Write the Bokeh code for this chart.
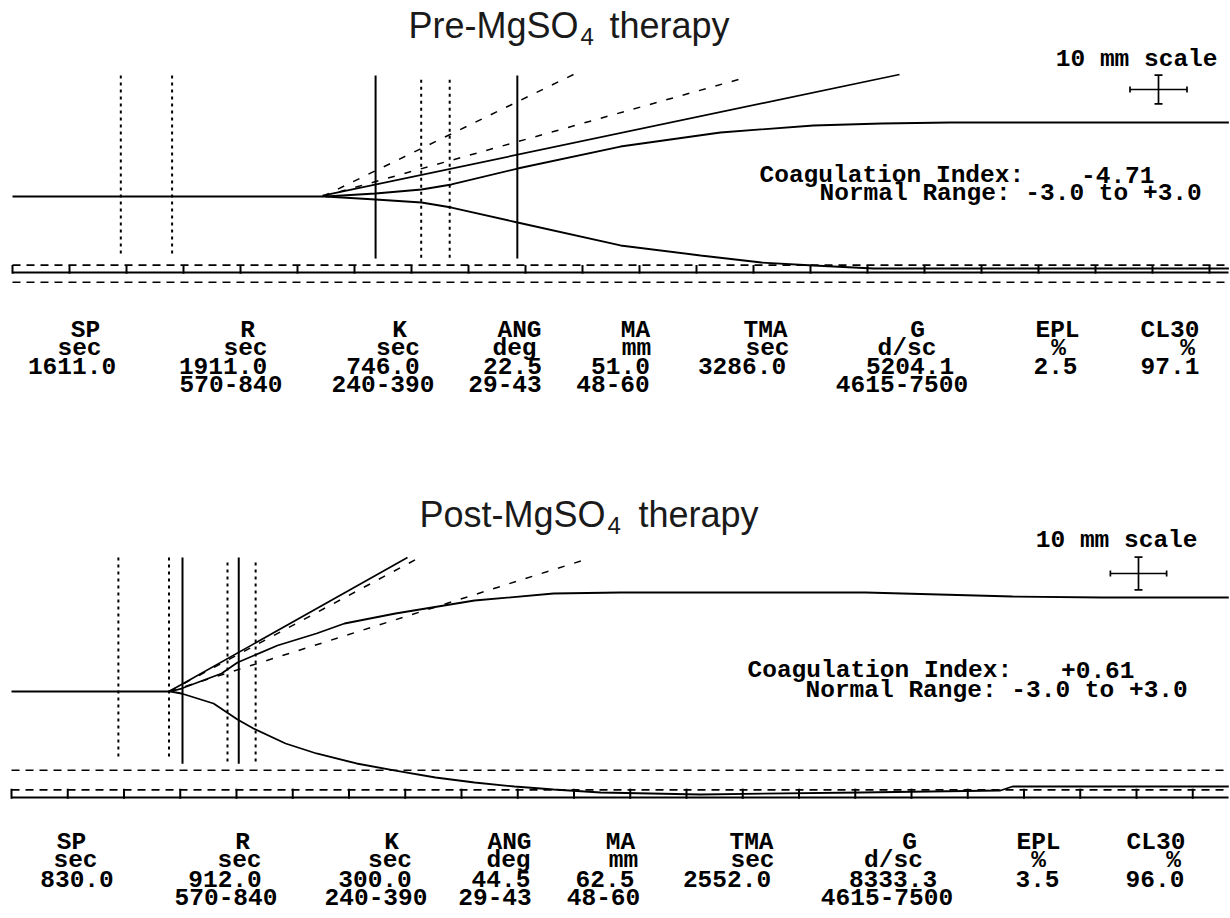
from bokeh.plotting import figure
from bokeh.models import Range1d, Label, ColumnDataSource
from bokeh.layouts import column
from bokeh.embed import file_html
from bokeh.resources import INLINE
from bokeh.core.properties import value

# ---------------- data ----------------
params = ["SP", "R", "K", "ANG", "MA", "TMA", "G", "EPL", "CL30"]
units = ["sec", "sec", "sec", "deg", "mm", "sec", "d/sc", "%", "%"]
normal_ranges = ["", "570-840", "240-390", "29-43", "48-60", "", "4615-7500", "", ""]
pre_values = ["1611.0", "1911.0", "746.0", "22.5", "51.0", "3286.0", "5204.1", "2.5", "97.1"]
post_values = ["830.0", "912.0", "300.0", "44.5", "62.5", "2552.0", "8333.3", "3.5", "96.0"]
pre_ci = "-4.71"
post_ci = "+0.61"
ci_normal = "Normal Range: -3.0 to +3.0"

R_normal_s = [570, 840]
K_normal_s = [240, 390]
MA_normal_mm = [48, 60]
pre_R_s, pre_K_s = 1911.0, 746.0
post_R_s, post_K_s = 912.0, 300.0

# TEG traces: time (min) and amplitude (mm) above / below the centre line
pre_up_t = [0, 27.46, 31.84, 35.88, 38.51, 44.30, 53.33, 62.1, 70.26, 76.23, 82.28, 106.7]
pre_up_a = [0, 0, 1.05, 2.45, 4.20, 9.79, 17.48, 22.38, 24.83, 25.52, 25.87, 25.87]
pre_lo_t = [27.46, 31.84, 35.88, 38.51, 44.30, 53.33, 60.35, 65.70, 70.26, 75.53, 106.7]
pre_lo_a = [0, -1.05, -2.10, -3.85, -9.09, -17.13, -20.63, -23.08, -24.13, -25.17, -25.17]

post_up_t = [0, 14.13, 15.11, 18.67, 20.09, 23.64, 27.11, 29.6, 34.13, 41.16, 48.18, 54.13, 75.91, 88.98, 96.98, 108.2]
post_up_a = [0, 0, 0.91, 5.49, 8.84, 14.02, 17.68, 20.73, 23.78, 27.74, 29.88, 30.18, 30.18, 28.96, 28.66, 28.66]
post_lo_t = [14.13, 15.11, 17.96, 20.09, 21.51, 24.36, 27.11, 30.67, 34.13, 37.69, 41.16, 44.71, 48.18, 52.36, 61.24, 75.47, 87.91, 88.98, 108.2]
post_lo_a = [0, -0.61, -3.66, -8.54, -11.28, -15.85, -18.9, -21.95, -24.09, -26.22, -27.74, -28.96, -29.88, -30.79, -31.40, -30.79, -30.18, -28.96, -28.96]

# angle lines: patient (solid), upper / lower normal angle (dashed)
pre_angle_t = [[27.2, 77.81], [27.2, 49.21], [27.2, 64.30]]
pre_angle_a = [[0.3, 42.66], [0.0, 42.66], [0.0, 41.6]]
post_angle_t = [[14.0, 35.2], [14.0, 36.27], [14.0, 51.02]]
post_angle_a = [[0.0, 40.85], [0.0, 40.85], [0.0, 40.24]]

tick_minutes = list(range(0, 110, 5))

MONO = "Liberation Mono"
SANS = "Liberation Sans"
W = 1230
MONO_PX = 24.5
TITLE_PX = 36
SUB_PX = 24
MID = 0.33  # distance of the text middle above the baseline, in em


def build_panel(cal, top_ref, height, title_main, title_rest, vals, ci_val,
                up_t, up_a, lo_t, lo_a, ang_t, ang_a, R_s, K_s, lay):
    x0, sx, y0, sy = cal
    X = lambda px: (px - x0) / sx
    Y = lambda py: (y0 - py) / sy
    TB = lambda base, size: Y(base - MID * size)  # baseline -> middle anchor
    p = figure(width=W, height=height,
               x_range=Range1d(X(0), X(W)),
               y_range=Range1d(Y(top_ref + height), Y(top_ref)),
               output_backend="svg", toolbar_location=None,
               x_axis_type=None, y_axis_type=None, min_border=0,
               outline_line_color=None, background_fill_color="white",
               border_fill_color="white")
    p.grid.visible = False
    t_end = X(1228)

    # vertical reference lines
    R_m, K_m = R_s / 60.0, K_s / 60.0
    vt, vb = lay["vtop"], lay["vbot"]
    p.segment(x0=[R_normal_s[0] / 60, R_normal_s[1] / 60], x1=[R_normal_s[0] / 60, R_normal_s[1] / 60],
              y0=[vt, vt], y1=[vb[0], vb[0]], line_color="black", line_width=2, line_dash="3 4")
    p.segment(x0=[R_m + K_normal_s[0] / 60, R_m + K_normal_s[1] / 60],
              x1=[R_m + K_normal_s[0] / 60, R_m + K_normal_s[1] / 60],
              y0=[vt - 1.5, vt - 1.5], y1=[vb[1], vb[1]], line_color="black", line_width=2, line_dash="3 4")
    p.segment(x0=[R_m, R_m + K_m], x1=[R_m, R_m + K_m], y0=[vt, vt], y1=[vb[1], vb[1]],
              line_color="black", line_width=2)

    # angle lines
    p.line(ang_t[0], ang_a[0], line_color="black", line_width=1.7)
    for k in (1, 2):
        p.line(ang_t[k], ang_a[k], line_color="black", line_width=1.5, line_dash="7 10")

    # traces
    p.line(up_t, up_a, line_color="black", line_width=1.8)
    p.line(lo_t, lo_a, line_color="black", line_width=1.8)

    # MA normal range dashed lines and time axis
    for m in MA_normal_mm:
        p.line([0, t_end], [-m / 2, -m / 2], line_color="black", line_width=1.6, line_dash="8 6")
    ax = lay["axis"]
    p.line([0, t_end], [ax, ax], line_color="black", line_width=2)
    p.segment(x0=tick_minutes, x1=tick_minutes, y0=[ax - 0.4] * len(tick_minutes),
              y1=[ax + lay["tick"]] * len(tick_minutes), line_color="black", line_width=2)

    # 10 mm scale cross
    cx, cy = X(lay["cross"][0]), Y(lay["cross"][1])
    hw, hh = 2.5, 5.0
    capx, capy = 3.0 / sy, 4.0 / sx
    p.segment(x0=[cx - hw, cx, cx - hw, cx + hw, cx - capy, cx - capy],
              x1=[cx + hw, cx, cx - hw, cx + hw, cx + capy, cx + capy],
              y0=[cy, cy - hh, cy - capx, cy - capx, cy - hh, cy + hh],
              y1=[cy, cy + hh, cy + capx, cy + capx, cy - hh, cy + hh],
              line_color="black", line_width=1.7)
    p.add_layout(Label(x=X(lay["scale"][0]), y=TB(lay["scale"][1], MONO_PX), text="10 mm scale",
                       text_align="right", text_baseline="middle", text_font=MONO,
                       text_font_style="bold", text_font_size=f"{MONO_PX}px", text_color="black"))

    # title with subscript
    tm = lay["title"]
    p.add_layout(Label(x=X(tm[0]), y=TB(tm[1], TITLE_PX), text=title_main, text_align="right",
                       text_baseline="middle", text_font=SANS, text_font_size=f"{TITLE_PX}px",
                       text_color="#1a1a1a"))
    p.add_layout(Label(x=X(tm[2]), y=TB(tm[3], SUB_PX), text="4", text_align="left",
                       text_baseline="middle", text_font=SANS, text_font_size=f"{SUB_PX}px",
                       text_color="#1a1a1a"))
    p.add_layout(Label(x=X(tm[4]), y=TB(tm[1], TITLE_PX), text=title_rest, text_align="left",
                       text_baseline="middle", text_font=SANS, text_font_size=f"{TITLE_PX}px",
                       text_color="#1a1a1a"))

    # coagulation index
    ci = lay["ci"]
    for txt, xx, yy, al in [("Coagulation Index:", ci[0], ci[1], "left"),
                            (ci_val, ci[2], ci[1], "right"),
                            (ci_normal, ci[3], ci[4], "left")]:
        p.add_layout(Label(x=X(xx), y=TB(yy, MONO_PX), text=txt, text_align=al, text_baseline="middle",
                           text_font=MONO, text_font_style="bold", text_font_size=f"{MONO_PX}px",
                           text_color="black"))

    # results table
    rows = lay["rows"]
    tx, ty, tt = [], [], []
    for col_texts, centers, base in [(params, lay["hdr"], rows[0]), (units, lay["unit"], rows[1]),
                                     (vals, lay["val"], rows[2]), (normal_ranges, lay["rng"], rows[3])]:
        for s, c in zip(col_texts, centers):
            if s and c is not None:
                tx.append(X(c)); ty.append(TB(base, MONO_PX)); tt.append(s)
    src = ColumnDataSource(dict(x=tx, y=ty, text=tt))
    p.text(x="x", y="y", text="text", source=src, text_align="center", text_baseline="middle",
           text_font=value(MONO), text_font_style="bold", text_font_size=f"{MONO_PX}px",
           text_color="black")
    return p


pre_layout = dict(
    vtop=42.3, vbot=(-19.9, -21.7), axis=-26.57, tick=2.6,
    cross=(1158, 89), scale=(1217, 67), title=(578, 37, 580, 44, 609),
    ci=(759, 183, 1154, 819, 201),
    rows=[338, 356, 374, 392],
    hdr=[85, 247, 399, 519, 635, 765, 917, 1057, 1169.5],
    unit=[79, 245, 397.5, 514, 636, 767, 906.5, 1058, 1187],
    val=[71.5, 222.5, 382.5, 512, 620, 741.5, 909.5, 1055, 1169.5],
    rng=[None, 230.5, 382.5, 504.5, 612.5, None, 901.5, None, None],
)
post_layout = dict(
    vtop=40.85, vbot=(-20.1, -22.0), axis=-32.32, tick=2.7,
    cross=(1138, 573), scale=(1197, 548), title=(605, 526, 607, 533, 638),
    ci=(747, 678, 1134, 805, 698),
    rows=[850, 868, 887, 905],
    hdr=[71, 242, 391, 509, 620, 751, 909, 1038, 1155.5],
    unit=[75, 239, 389.5, 508, 623, 752, 893, 1038, 1173],
    val=[76.5, 224.5, 374.5, 500.5, 604.5, 726.5, 892.5, 1037, 1154.5],
    rng=[None, 225.5, 375.5, 494.5, 603, None, 886.5, None, None],
)

p1 = build_panel((12, 11.4, 196, 2.86), 0, 450, "Pre-MgSO", "therapy", pre_values, pre_ci,
                 pre_up_t, pre_up_a, pre_lo_t, pre_lo_a, pre_angle_t, pre_angle_a,
                 pre_R_s, pre_K_s, pre_layout)
p2 = build_panel((11, 11.25, 691, 3.28), 450, 468, "Post-MgSO", "therapy", post_values, post_ci,
                 post_up_t, post_up_a, post_lo_t, post_lo_a, post_angle_t, post_angle_a,
                 post_R_s, post_K_s, post_layout)

layout = column(p1, p2)
open("out.html", "w").write(file_html(layout, INLINE))
